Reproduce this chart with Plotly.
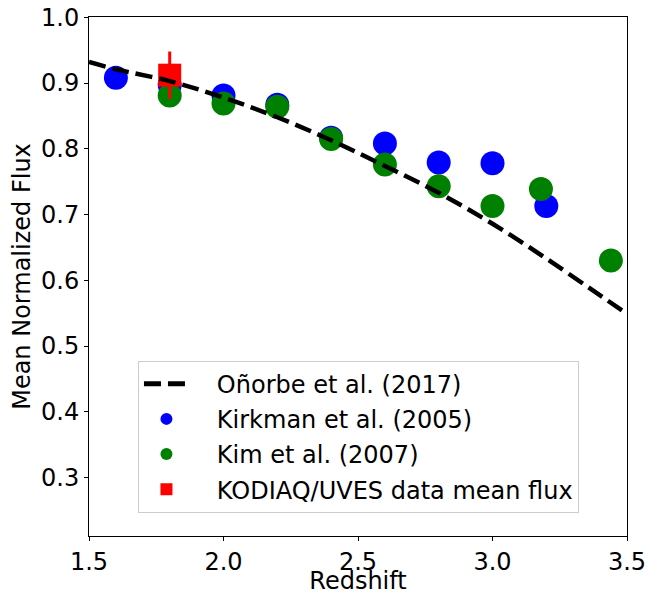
import plotly.graph_objects as go

# Onorbe et al. (2017) model curve
model_z = [1.5, 1.6, 1.8, 2.0, 2.2, 2.4, 2.6, 2.8, 3.0, 3.2, 3.4, 3.5]
model_flux = [0.932, 0.921, 0.903, 0.878, 0.848, 0.813, 0.774, 0.733, 0.686, 0.633, 0.577, 0.549]

kirkman_z = [1.6, 1.8, 2.0, 2.2, 2.4, 2.6, 2.8, 3.0, 3.2]
kirkman_flux = [0.908, 0.897, 0.881, 0.867, 0.817, 0.808, 0.779, 0.778, 0.713]

kim_z = [1.8, 2.0, 2.2, 2.4, 2.6, 2.8, 3.0, 3.18, 3.44]
kim_flux = [0.881, 0.869, 0.864, 0.815, 0.776, 0.743, 0.713, 0.739, 0.630]

kodiaq_z = [1.8]
kodiaq_flux = [0.912]
kodiaq_err = [0.036]

font = 'DejaVu Sans'
pad = '\u00a0' * 3  # pushes legend text right of the symbols

fig = go.Figure()
fig.add_trace(go.Scatter(x=kirkman_z, y=kirkman_flux, mode='markers', name=pad + 'Kirkman et al. (2005)',
                         marker=dict(color='#0000ff', size=24, line=dict(width=0)),
                         legendrank=2, legendgroup='b'))
fig.add_trace(go.Scatter(x=kim_z, y=kim_flux, mode='markers', name=pad + 'Kim et al. (2007)',
                         marker=dict(color='#008000', size=24, line=dict(width=0)),
                         legendrank=3, legendgroup='c'))
fig.add_trace(go.Scatter(x=kodiaq_z, y=kodiaq_flux, mode='markers', name=pad + 'KODIAQ/UVES data mean flux',
                         marker=dict(color='#ff0000', size=23, symbol='square', line=dict(width=0)),
                         error_y=dict(type='data', array=kodiaq_err, color='#ff0000', thickness=3, width=0),
                         legendrank=4, legendgroup='d'))
fig.add_trace(go.Scatter(x=model_z, y=model_flux, mode='lines', name=pad + 'Oñorbe et al. (2017)',
                         line=dict(color='black', width=4.5, dash='17px,7px', shape='spline'),
                         legendrank=1, legendgroup='a'))

# page body adds an 8px offset, so the figure is sized to fit inside the window
fig.update_layout(
    width=659, height=587,
    template=None,
    plot_bgcolor='white', paper_bgcolor='white',
    margin=dict(l=81, r=40, t=9, b=59),
    font=dict(family=font, size=24, color='black'),
    showlegend=True,
    legend=dict(x=0.091, y=0.338, xanchor='left', yanchor='top',
                bgcolor='rgba(255,255,255,0.8)', bordercolor='#cccccc', borderwidth=1,
                font=dict(size=24), tracegroupgap=1, itemwidth=45,
                itemsizing='constant', traceorder='grouped'),
)
fig.update_xaxes(range=[1.5, 3.5], tickvals=[1.5, 2.0, 2.5, 3.0, 3.5],
                 ticktext=['1.5', '2.0', '2.5', '3.0', '3.5'],
                 title=dict(text='Redshift', standoff=4, font=dict(size=24)),
                 showline=True, linecolor='black', linewidth=1, mirror=True,
                 ticks='outside', ticklen=4, tickcolor='black', showgrid=False, zeroline=False)
fig.update_yaxes(range=[0.211, 1.0005], tickvals=[0.3, 0.4, 0.5, 0.6, 0.7, 0.8, 0.9, 1.0],
                 ticktext=['0.3', '0.4', '0.5', '0.6', '0.7', '0.8', '0.9', '1.0'],
                 ticklabeloverflow='allow',
                 title=dict(text='Mean Normalized Flux', standoff=6, font=dict(size=24)),
                 showline=True, linecolor='black', linewidth=1, mirror=True,
                 ticks='outside', ticklen=4, tickcolor='black', showgrid=False, zeroline=False)

fig.write_html('out.html')
